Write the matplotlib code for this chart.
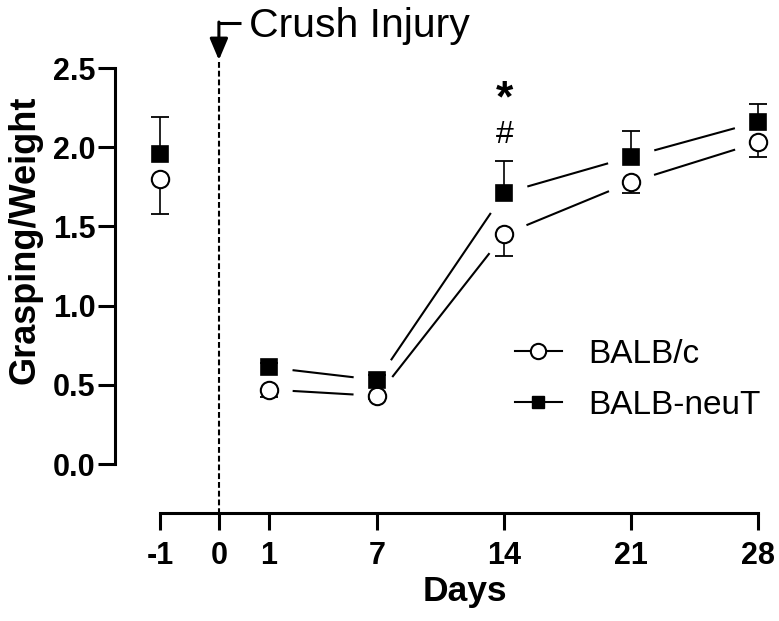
import numpy as np
import matplotlib
matplotlib.use("Agg")
import matplotlib.pyplot as plt
from matplotlib.lines import Line2D

plt.rcParams['font.family'] = ['Liberation Sans', 'DejaVu Sans']

# data
days = [-1, 1, 7, 14, 21, 28]
balbc_mean = [1.80, 0.47, 0.43, 1.45, 1.78, 2.03]
balbc_sem = [0.22, 0.05, 0.02, 0.14, 0.07, 0.09]
neut_mean = [1.96, 0.61, 0.53, 1.71, 1.94, 2.16]
neut_sem = [0.23, 0.03, 0.03, 0.20, 0.16, 0.11]

tick_days = [-1, 0, 1, 7, 14, 21, 28]
yticks = [0.0, 0.5, 1.0, 1.5, 2.0, 2.5]

# the axis is broken before day 1: place -1 and 0 on their own spots
special_pos = {-1: -5.0, 0: -1.75}


def xpos(d):
    return special_pos.get(d, d)


W, H = 779, 621
fig = plt.figure(figsize=(W / 100, H / 100), dpi=100)
ax = fig.add_axes([160 / W, (H - 464) / H, 598 / W, 396 / H])
ax.set_xlim(xpos(-1), 28)
ax.set_ylim(0, 2.5)

x = np.array([xpos(d) for d in days])
bc = np.array(balbc_mean)
nt = np.array(neut_mean)

# connecting lines (day 1 onwards), with gaps around the symbols like Prism
gap = 25


def gapped(xs, ys):
    pts = ax.transData.transform(np.column_stack([xs, ys]))
    inv = ax.transData.inverted()
    for p, q in zip(pts[:-1], pts[1:]):
        v = q - p
        u = v / np.hypot(*v)
        seg = inv.transform(np.array([p + u * gap, q - u * gap]))
        ax.plot(seg[:, 0], seg[:, 1], color='k', lw=1.5, clip_on=False, zorder=2)


gapped(x[1:], bc[1:])
gapped(x[1:], nt[1:])

# one-sided error bars: down for BALB/c, up for BALB-neuT
lo = bc - np.array(balbc_sem)
hi = nt + np.array(neut_sem)
ax.vlines(x, lo, bc, color='k', lw=1.2, clip_on=False, zorder=1)
ax.plot(x, lo, ls='none', marker='_', ms=13.5, mew=1.3, color='k', clip_on=False, zorder=1)
ax.vlines(x, nt, hi, color='k', lw=1.2, clip_on=False, zorder=1)
ax.plot(x, hi, ls='none', marker='_', ms=13.5, mew=1.3, color='k', clip_on=False, zorder=1)

ax.plot(x, bc, ls='none', marker='o', ms=12.5, mfc='white', mec='k', mew=1.5,
        clip_on=False, zorder=3)
ax.plot(x, nt, ls='none', marker='s', ms=11, mfc='k', mec='k', mew=1.2,
        clip_on=False, zorder=4)

# crush injury marker at day 0
x0 = xpos(0)
ax.plot([x0, x0], [2.54, -0.31], color='k', lw=1.5, ls=(0, (2.8, 1.4)), clip_on=False)
ax.plot([x0, -0.55], [2.784, 2.784], color='k', lw=2.2, clip_on=False, solid_capstyle='butt')
ax.annotate('', xy=(x0, 2.55), xytext=(x0, 2.79), annotation_clip=False,
            arrowprops=dict(arrowstyle='-|>,head_length=1.3,head_width=0.55',
                            lw=2.2, color='k', shrinkA=0, shrinkB=0))
ax.text(-0.1, 2.696, 'Crush Injury', fontsize=29.5, va='baseline', ha='left')

# significance marks at day 14
ax.text(14, 2.30, '*', fontsize=32, fontweight='bold', ha='center', va='center')
ax.text(14, 2.08, '#', fontsize=23, ha='center', va='center')

# axes styling
for s in ['top', 'right']:
    ax.spines[s].set_visible(False)
ax.spines['left'].set_position(('outward', 32.4))
ax.spines['bottom'].set_position(('outward', 35.3))
ax.spines['left'].set_bounds(0, 2.5)
ax.spines['bottom'].set_bounds(xpos(-1), 28)
for s in ['left', 'bottom']:
    ax.spines[s].set_linewidth(2.2)
ax.set_xticks([xpos(d) for d in tick_days])
ax.set_xticklabels([str(d) for d in tick_days])
ax.set_yticks(yticks)
ax.set_yticklabels(['%.1f' % v for v in yticks])
ax.tick_params(axis='both', width=2.2, length=12, labelsize=22)
ax.tick_params(axis='x', pad=8)
ax.tick_params(axis='y', pad=2)
for lab in ax.get_xticklabels() + ax.get_yticklabels():
    lab.set_fontweight('bold')

fig.text(465 / W, 1 - 592 / H, 'Days', fontsize=25.5, fontweight='bold', ha='center', va='center')
fig.text(25 / W, 1 - 240 / H, 'Grasping/Weight', fontsize=26, fontweight='bold',
         rotation=90, ha='center', va='center')

handles = [
    Line2D([], [], color='k', lw=1.5, marker='o', ms=11, mfc='white', mec='k', mew=1.5),
    Line2D([], [], color='k', lw=1.5, marker='s', ms=9, mfc='k', mec='k'),
]
ax.legend(handles, ['BALB/c', 'BALB-neuT'], loc='upper left', frameon=False,
          bbox_to_anchor=(515 / W, 1 - 339 / H), bbox_transform=fig.transFigure,
          fontsize=24, handlelength=1.4, handletextpad=0.8, labelspacing=0.6,
          borderpad=0, borderaxespad=0)

fig.savefig('out.png', dpi=100)
